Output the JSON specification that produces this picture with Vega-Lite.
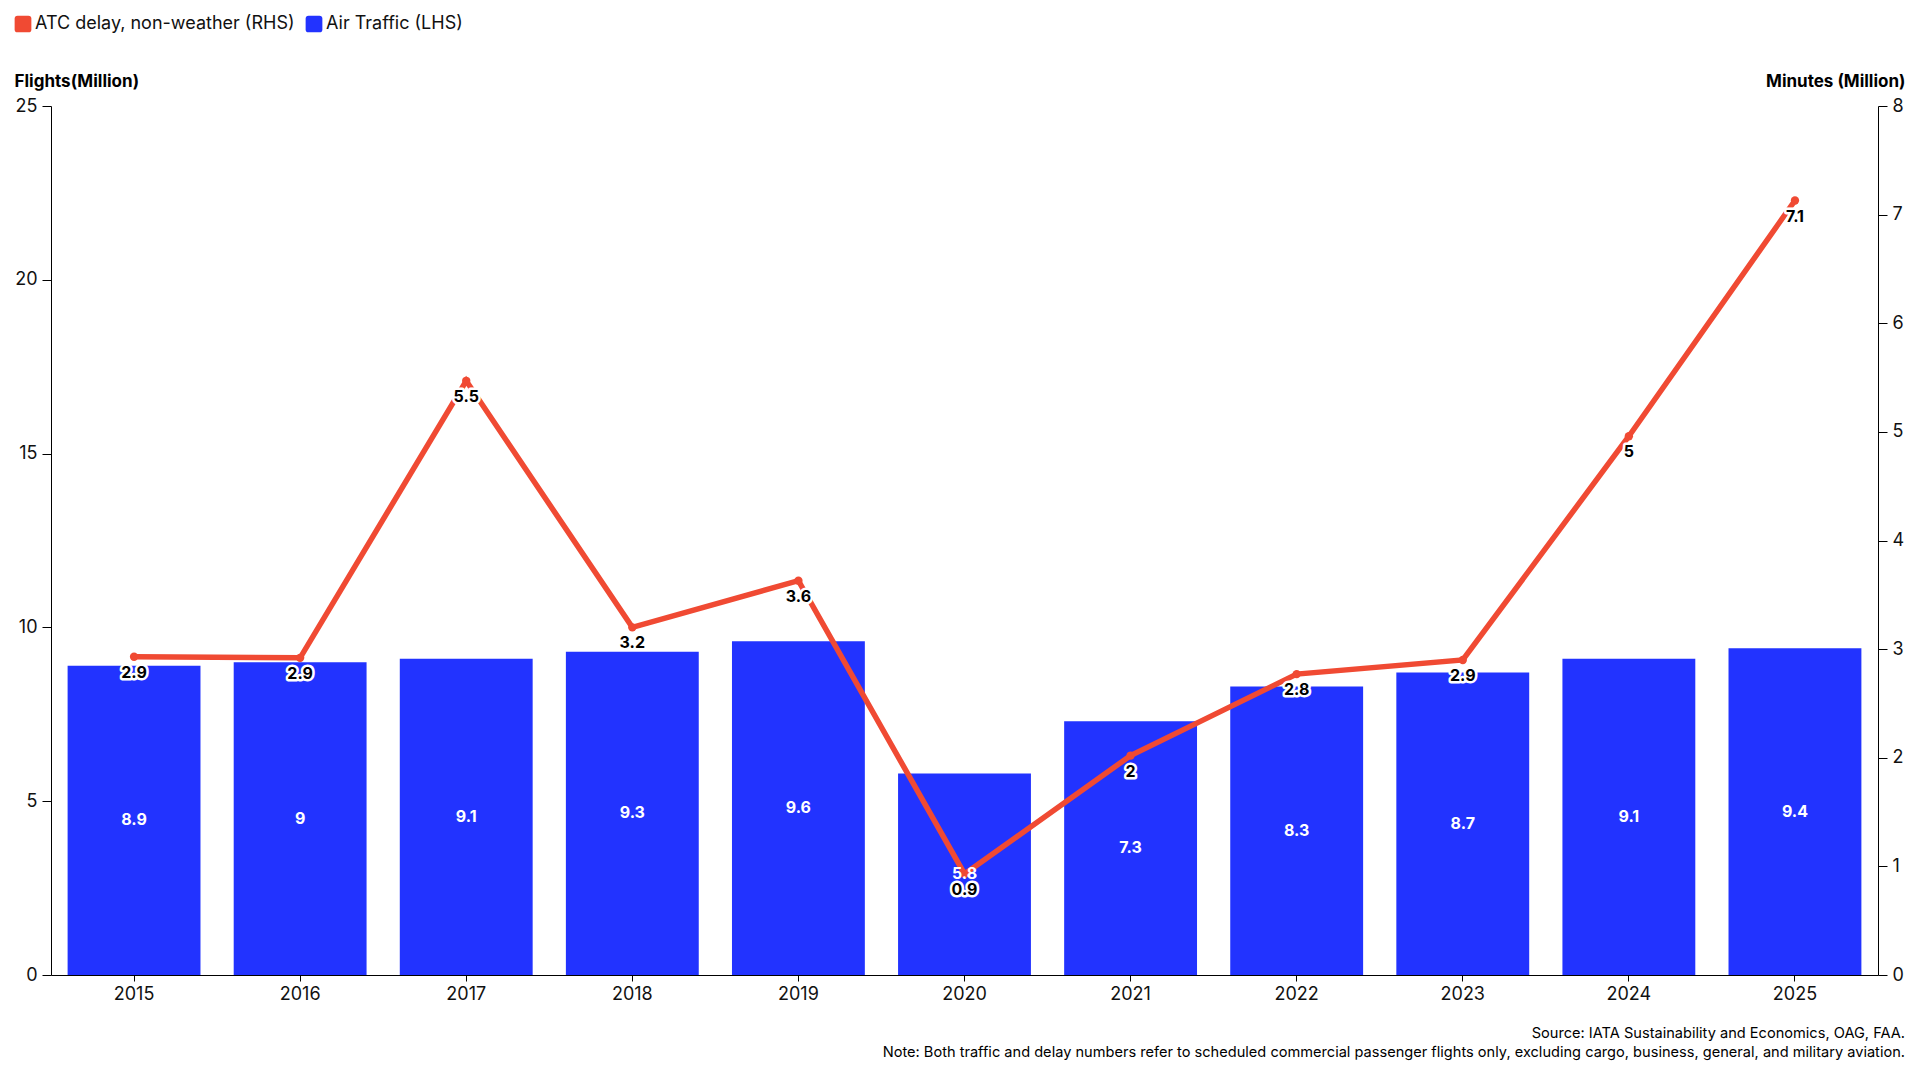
{
  "$schema": "https://vega.github.io/schema/vega-lite/v6.json",
  "width": 1920,
  "height": 1080,
  "autosize": {"type": "fit", "contains": "padding"},
  "padding": {"left": 14, "right": 15, "top": 72, "bottom": 20},
  "config": {
    "font": "Inter",
    "view": {"stroke": null},
    "axis": {
      "domainColor": "#000000",
      "tickColor": "#000000",
      "labelColor": "#111111",
      "labelFontSize": 18,
      "labelFontWeight": "normal",
      "titleColor": "#000000",
      "titleFontSize": 17,
      "titleFontWeight": "bold",
      "grid": false
    }
  },
  "title": {
    "text": [
      "Source: IATA Sustainability and Economics, OAG, FAA.",
      "Note: Both traffic and delay numbers refer to scheduled commercial passenger flights only, excluding cargo, business, general, and military aviation."
    ],
    "orient": "bottom",
    "anchor": "end",
    "frame": "bounds",
    "fontSize": 14.6,
    "fontWeight": "normal",
    "color": "#000000",
    "lineHeight": 19,
    "offset": 23
  },
  "data": {
    "values": [
      {"year": "2015", "traffic": 8.9, "delay": 2.93},
      {"year": "2016", "traffic": 9.0, "delay": 2.92},
      {"year": "2017", "traffic": 9.1, "delay": 5.47},
      {"year": "2018", "traffic": 9.3, "delay": 3.2},
      {"year": "2019", "traffic": 9.6, "delay": 3.63},
      {"year": "2020", "traffic": 5.8, "delay": 0.93},
      {"year": "2021", "traffic": 7.3, "delay": 2.02},
      {"year": "2022", "traffic": 8.3, "delay": 2.77},
      {"year": "2023", "traffic": 8.7, "delay": 2.9},
      {"year": "2024", "traffic": 9.1, "delay": 4.96},
      {"year": "2025", "traffic": 9.4, "delay": 7.13}
    ]
  },
  "encoding": {
    "x": {
      "field": "year",
      "type": "ordinal",
      "scale": {"paddingInner": 0.2, "paddingOuter": 0.1},
      "axis": {"title": null, "labelAngle": 0, "tickSize": 6, "labelPadding": 4}
    }
  },
  "layer": [
    {
      "mark": {"type": "bar", "color": "#2233FF"},
      "encoding": {
        "y": {
          "field": "traffic",
          "type": "quantitative",
          "scale": {"domain": [0, 25]},
          "axis": {
            "values": [0, 5, 10, 15, 20, 25],
            "title": "Flights(Million)",
            "titleAngle": 0,
            "titleX": -37,
            "titleY": -20,
            "titleAlign": "left",
            "titleBaseline": "alphabetic",
            "tickSize": 9,
            "labelPadding": 5
          }
        },
        "color": {
          "datum": "Air Traffic (LHS)",
          "scale": {
            "domain": ["ATC delay, non-weather (RHS)", "Air Traffic (LHS)"],
            "range": ["#F04A33", "#2233FF"]
          },
          "legend": {
            "title": null,
            "orient": "none",
            "direction": "horizontal",
            "legendX": -37,
            "legendY": -91,
            "symbolType": "M-0.65,-1H0.65Q1,-1 1,-0.65V0.65Q1,1 0.65,1H-0.65Q-1,1 -1,0.65V-0.65Q-1,-1 -0.65,-1Z",
            "symbolSize": 280,
            "symbolStrokeWidth": 0,
            "labelFontSize": 18,
            "labelLimit": 0,
            "labelColor": "#111111",
            "labelOffset": 3,
            "columnPadding": 10
          }
        }
      }
    },
    {
      "mark": {"type": "line", "color": "#F04A33", "strokeWidth": 5.5, "point": {"filled": true, "size": 70, "color": "#F04A33"}},
      "encoding": {
        "y": {
          "field": "delay",
          "type": "quantitative",
          "scale": {"domain": [0, 8]},
          "axis": {
            "orient": "right",
            "values": [0, 1, 2, 3, 4, 5, 6, 7, 8],
            "title": "Minutes (Million)",
            "titleAngle": 0,
            "titleX": 27,
            "titleY": -20,
            "titleAlign": "right",
            "titleBaseline": "alphabetic",
            "tickSize": 9,
            "labelPadding": 5
          }
        }
      }
    },
    {
      "mark": {"type": "text", "color": "#FFFFFF", "fontWeight": "bold", "fontSize": 16, "baseline": "middle"},
      "encoding": {
        "y": {"field": "traffic", "type": "quantitative", "scale": {"domain": [0, 50]}, "axis": null},
        "text": {"field": "traffic", "type": "quantitative"}
      }
    },
    {
      "encoding": {
        "y": {"field": "delay", "type": "quantitative", "scale": {"domain": [0, 8]}, "axis": null},
        "text": {"field": "delay", "type": "quantitative", "format": ".1~f"}
      },
      "layer": [
        {
          "mark": {"type": "text", "color": "#FFFFFF", "stroke": "#FFFFFF", "strokeWidth": 5, "strokeJoin": "round", "fontWeight": "bold", "fontSize": 16, "baseline": "middle", "dy": 16}
        },
        {
          "mark": {"type": "text", "color": "#000000", "fontWeight": "bold", "fontSize": 16, "baseline": "middle", "dy": 16}
        }
      ]
    }
  ],
  "resolve": {"scale": {"y": "independent"}}
}
